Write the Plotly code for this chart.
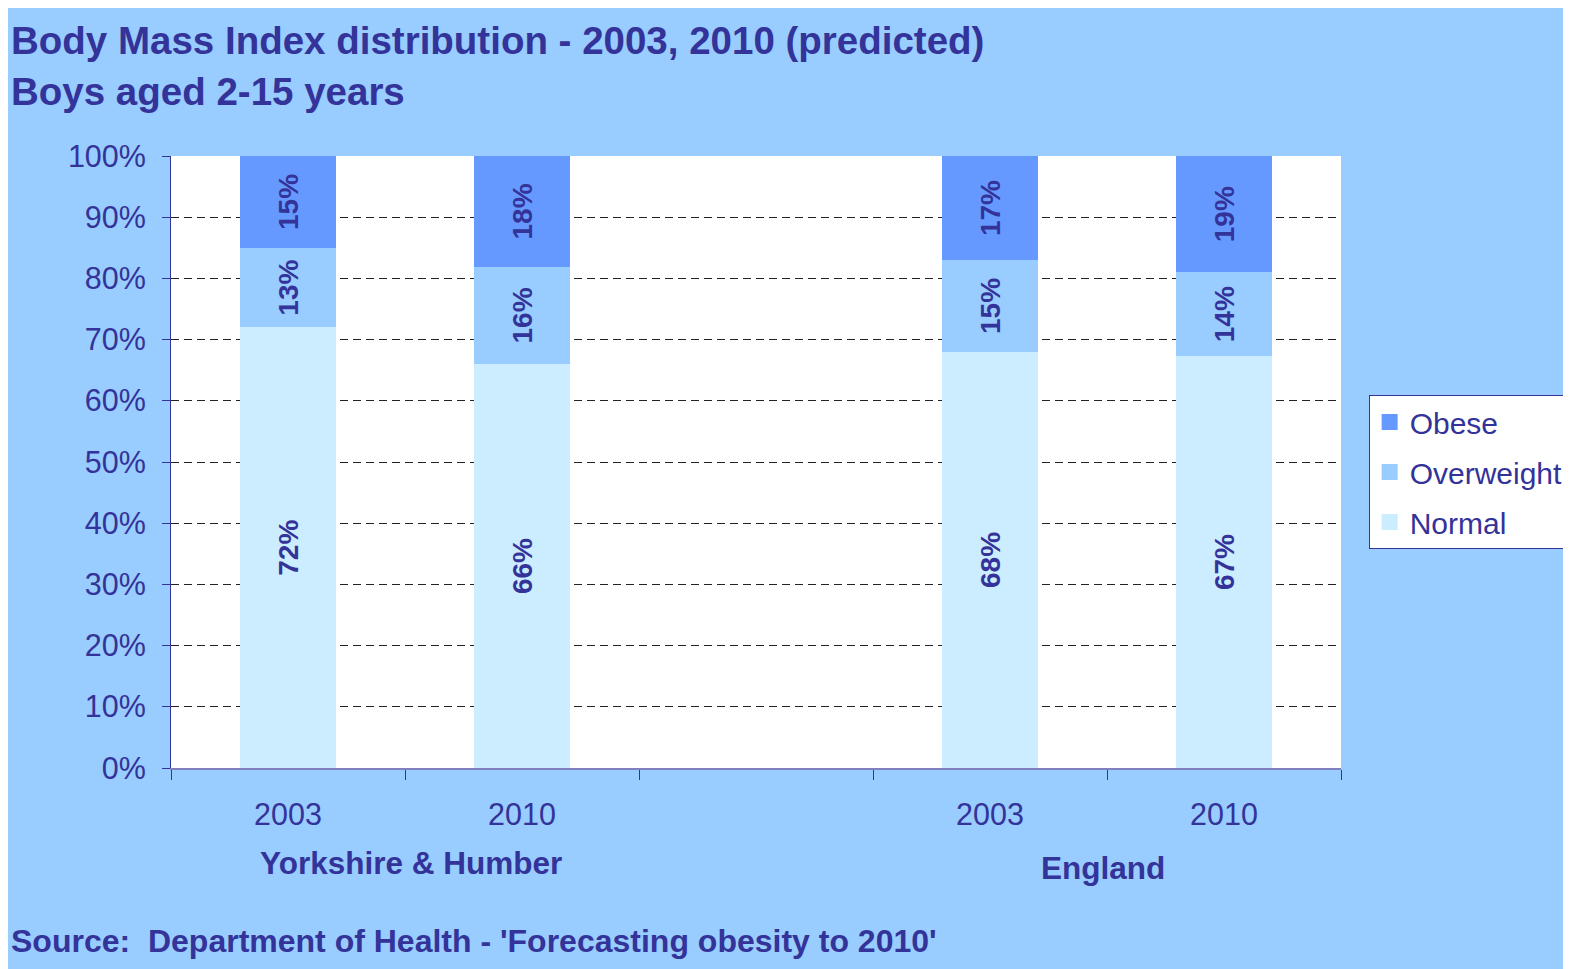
import plotly.graph_objects as go

# data
x_pos = [0, 1, 3, 4]
year_labels = ['2003', '2010', '2003', '2010']
groups = ['Yorkshire & Humber', 'England']
normal = [72, 66.0, 68, 67.3]
overweight = [13, 15.9, 15, 13.7]
obese = [15, 18.1, 17, 19.0]

navy = '#333399'
font_family = 'Liberation Sans, Arial, sans-serif'

fig = go.Figure()

series = [('Normal', normal, '#CCECFF'),
          ('Overweight', overweight, '#99CCFF'),
          ('Obese', obese, '#6699FF')]

for name, vals, col in series:
    fig.add_trace(go.Bar(
        x=x_pos,
        y=vals,
        name=name,
        width=0.41,
        marker=dict(color=col, line=dict(width=0)),
        text=[f'{v:.0f}%' for v in vals],
        textposition='inside',
        insidetextanchor='middle',
        textangle=-90,
        textfont=dict(family=font_family, size=28, color=navy, weight='bold'),
        constraintext='none',
        hoverinfo='skip',
        showlegend=False,
    ))

# legend entries with bigger square swatches (top to bottom: Obese, Overweight, Normal)
for name, vals, col in reversed(series):
    fig.add_trace(go.Scatter(
        x=[None], y=[None], mode='markers', name=name,
        legendgroup=name,
        marker=dict(symbol='square', size=18, color=col),
    ))

fig.update_layout(
    width=1571,
    height=961,
    barmode='stack',
    paper_bgcolor='#99CCFF',
    plot_bgcolor='white',
    font=dict(family=font_family, color=navy),
    margin=dict(l=163, r=238, t=148, b=201, autoexpand=False),
    showlegend=True,
    legend=dict(
        xref='container', yref='container',
        x=0.8661, y=0.5973, xanchor='left', yanchor='top',
        bgcolor='white', bordercolor=navy, borderwidth=1,
        font=dict(size=30, color=navy),
        traceorder='grouped',
        tracegroupgap=8,
        itemsizing='trace',
    ),
    xaxis=dict(
        range=[-0.5, 4.5],
        tickvals=x_pos,
        ticktext=year_labels,
        ticks='',
        ticklabelstandoff=18,
        tickfont=dict(size=30.5, color=navy),
        showgrid=False,
        zeroline=False,
        showline=True,
        linecolor='#8080C0',
        linewidth=2,
        minor=dict(ticks='outside', tick0=0.5, dtick=1, ticklen=10,
                   tickcolor=navy, tickwidth=1, showgrid=False),
    ),
    yaxis=dict(
        range=[0, 100],
        dtick=10,
        ticksuffix='%',
        ticks='outside',
        ticklen=8,
        tickcolor=navy,
        ticklabelstandoff=10,
        tickfont=dict(size=30.5, color=navy),
        showgrid=True,
        gridcolor='#222222',
        gridwidth=1,
        griddash='8px,5px',
        zeroline=False,
        showline=True,
        linecolor=navy,
        linewidth=1,
    ),
)

left_x = -0.1388

# titles
fig.add_annotation(text='Body Mass Index distribution - 2003, 2010 (predicted)',
                   xref='paper', yref='paper', x=left_x, y=1.188,
                   xanchor='left', yanchor='middle', showarrow=False,
                   font=dict(size=38.5, color=navy, weight='bold'))
fig.add_annotation(text='Boys aged 2-15 years',
                   xref='paper', yref='paper', x=left_x, y=1.1046,
                   xanchor='left', yanchor='middle', showarrow=False,
                   font=dict(size=38.5, color=navy, weight='bold'))

# group labels
fig.add_annotation(text=groups[0], xref='x', yref='paper', x=0.524, y=-0.155,
                   xanchor='center', yanchor='middle', showarrow=False,
                   font=dict(size=31.5, color=navy, weight='bold'))
fig.add_annotation(text=groups[1], xref='x', yref='paper', x=3.485, y=-0.163,
                   xanchor='center', yanchor='middle', showarrow=False,
                   font=dict(size=31.5, color=navy, weight='bold'))

# source
fig.add_annotation(text="Source:  Department of Health - 'Forecasting obesity to 2010'",
                   xref='paper', yref='paper', x=left_x, y=-0.283,
                   xanchor='left', yanchor='middle', showarrow=False,
                   font=dict(size=32, color=navy, weight='bold'))

fig.write_html('out.html')
